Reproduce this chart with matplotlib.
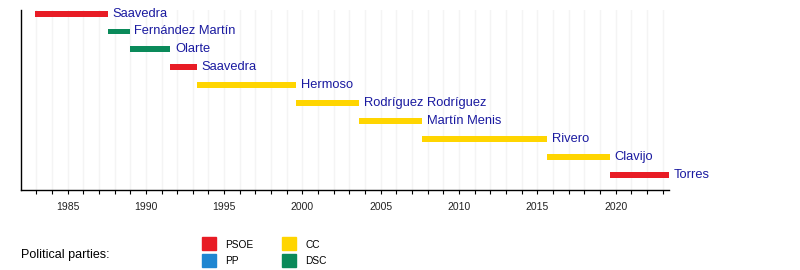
import matplotlib
matplotlib.use("Agg")
import matplotlib.pyplot as plt
from matplotlib.patches import Rectangle
from matplotlib.ticker import MultipleLocator

plt.rcParams['font.family'] = ['Liberation Sans', 'DejaVu Sans']

# presidents of the Canary Islands, in row order
names = ['Saavedra', 'Fernández Martín', 'Olarte', 'Saavedra', 'Hermoso',
         'Rodríguez Rodríguez', 'Martín Menis', 'Rivero', 'Clavijo', 'Torres']
starts = [1982.95, 1987.57, 1988.97, 1991.56, 1993.24,
          1999.61, 2003.64, 2007.64, 2015.6, 2019.63]
ends = [1987.57, 1988.97, 1991.56, 1993.24, 1999.61,
        2003.64, 2007.64, 2015.6, 2019.63, 2023.4]
parties = ['PSOE', 'DSC', 'DSC', 'PSOE', 'CC', 'CC', 'CC', 'CC', 'CC', 'PSOE']

party_colors = {'PSOE': '#e81c25', 'PP': '#1f86d1', 'CC': '#ffd500', 'DSC': '#0a8a5a'}
legend_parties = ['PSOE', 'PP', 'CC', 'DSC']

W, H = 800, 270
fig = plt.figure(figsize=(8, 2.7), dpi=100)
# axes box in pixels: left 21, right 669, top 10, bottom 190
ax = fig.add_axes([21 / W, 1 - 190 / H, (669 - 21) / W, (190 - 10) / H])

rows = list(range(len(names)))
widths = [e - s for s, e in zip(starts, ends)]
ax.barh(rows, widths, left=starts, height=0.33,
        color=[party_colors[p] for p in parties], zorder=3)
for r, e, n in zip(rows, ends, names):
    ax.text(e + 0.3, r, n, color='#1a1aa0', fontsize=9.3, va='center', ha='left', zorder=4)

ax.set_xlim(1982.03, 2023.4)
ax.set_ylim(9.85, -0.2)
ax.xaxis.set_major_locator(MultipleLocator(5))
ax.xaxis.set_minor_locator(MultipleLocator(1))
ax.set_xticks(range(1985, 2021, 5))
ax.grid(axis='x', which='both', color='#f4f4f4', linewidth=1, zorder=0)
ax.set_yticks([])
for s in ['top', 'right']:
    ax.spines[s].set_visible(False)
ax.spines['left'].set_linewidth(1)
ax.spines['bottom'].set_linewidth(1)
ax.tick_params(axis='x', which='both', direction='out', length=3, width=0.8,
               labelsize=7.5, labelcolor='#222222', pad=6)
ax.set_axisbelow(True)

# party legend
fig.text(21 / W, 1 - 255 / H, 'Political parties:', fontsize=9, va='center', ha='left')
legend_pos = [(202, 237), (202, 254), (282, 237), (282, 254)]
for p, (px, py) in zip(legend_parties, legend_pos):
    fig.patches.append(Rectangle((px / W, 1 - (py + 12.5) / H), 14 / W, 12.5 / H,
                                 transform=fig.transFigure, color=party_colors[p]))
    fig.text((px + 23) / W, 1 - (py + 7.5) / H, p, fontsize=7.3, va='center', ha='left')

fig.savefig('out.png', dpi=100)
